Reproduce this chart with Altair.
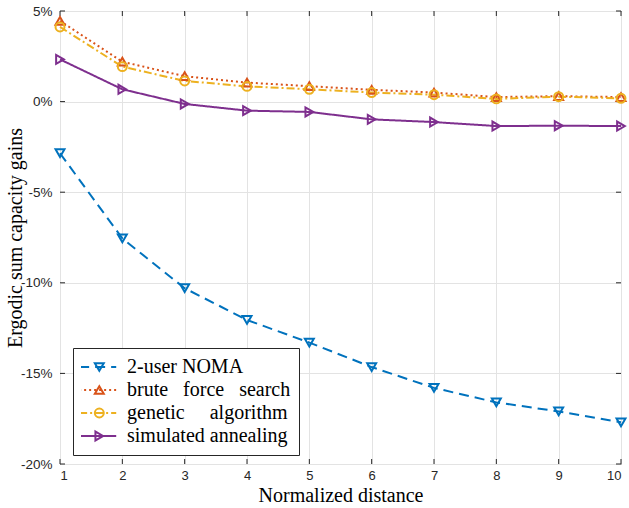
import altair as alt
import pandas as pd

# ---- data ----
distance = [1, 2, 3, 4, 5, 6, 7, 8, 9, 10]
series_names = [
    "2-user NOMA",
    "brute\u00a0\u00a0\u00a0force\u00a0\u00a0\u00a0search",
    "genetic\u00a0\u00a0\u00a0\u00a0\u00a0algorithm",
    "simulated annealing",
]
noma = [-2.85, -7.55, -10.3, -12.05, -13.3, -14.65, -15.8, -16.6, -17.1, -17.7]
brute = [4.45, 2.2, 1.4, 1.05, 0.85, 0.65, 0.5, 0.25, 0.3, 0.25]
genetic = [4.12, 1.93, 1.14, 0.84, 0.68, 0.5, 0.38, 0.15, 0.27, 0.18]
annealing = [2.33, 0.68, -0.13, -0.5, -0.57, -0.98, -1.13, -1.35, -1.33, -1.35]
colors = ["#0072BD", "#D95319", "#EDB120", "#7E2F8E"]
dashes = [[10, 6], [2, 3], [8, 3, 2, 3], [1, 0]]
shapes = ["triangle-down", "triangle-up", "circle", "triangle-right"]
x_ticks = [1, 2, 3, 4, 5, 6, 7, 8, 9, 10]
y_ticks = [-20, -15, -10, -5, 0, 5]

rows = []
for name, vals in zip(series_names, [noma, brute, genetic, annealing]):
    for d, v in zip(distance, vals):
        rows.append({"distance": d, "gain": v, "series": name, "series_m": name})
df = pd.DataFrame(rows)
xt = pd.DataFrame({"t": x_ticks})
yt = pd.DataFrame({"t": y_ticks})

W, H = 561, 453
SERIF = "Liberation Serif"
SANS = "Liberation Sans"

xscale = alt.Scale(domain=[1, 10], nice=False)
yscale = alt.Scale(domain=[-20, 5], nice=False)

LX, LY = 13, 337
line_legend = dict(
    title=None, orient="none", legendX=LX, legendY=LY,
    symbolType="M-3.2,0H6.8", symbolSize=55, symbolStrokeWidth=2,
    labelFont=SERIF, labelFontSize=20, labelColor="#000000",
    labelOffset=26, rowPadding=1, padding=8, clipHeight=22,
    strokeColor="#262626", fillColor="#ffffff", zindex=0, labelLimit=400,
)
marker_legend = dict(
    title=None, orient="none", legendX=LX, legendY=LY,
    symbolSize=80, symbolStrokeWidth=2, symbolOffset=8.3,
    symbolFillColor="transparent",
    labelFont=SERIF, labelFontSize=20, labelExpr="''",
    labelOffset=26, rowPadding=1, padding=8, clipHeight=22,
    zindex=1, labelLimit=400,
)

base = alt.Chart(df)

lines = base.mark_line(strokeWidth=2).encode(
    x=alt.X("distance:Q", scale=xscale,
            axis=alt.Axis(values=x_ticks, title="Normalized distance", format="d",
                          grid=True, gridColor="#e3e3e3", ticks=False, tickSize=0,
                          domain=False, labelFont=SANS, labelFontSize=13,
                          labelColor="#262626", labelPadding=5,
                          titleFont=SERIF, titleFontSize=20, titleFontWeight="normal",
                          titleColor="#000000", titleY=31, titleBaseline="middle")),
    y=alt.Y("gain:Q", scale=yscale,
            axis=alt.Axis(values=y_ticks, title="Ergodic sum capacity gains",
                          labelExpr="datum.value + '%'",
                          grid=True, gridColor="#e3e3e3", ticks=False, tickSize=0,
                          domain=False, labelFont=SANS, labelFontSize=13.5,
                          labelColor="#262626", labelPadding=8,
                          titleFont=SERIF, titleFontSize=20, titleFontWeight="normal",
                          titleColor="#000000", titleX=-45, titleBaseline="middle")),
    color=alt.Color("series:N", scale=alt.Scale(domain=series_names, range=colors),
                    legend=alt.Legend(**line_legend)),
    strokeDash=alt.StrokeDash("series:N",
                              scale=alt.Scale(domain=series_names, range=dashes),
                              legend=alt.Legend(**line_legend)),
)

points = base.mark_point(filled=False, strokeWidth=2, size=80, opacity=1).encode(
    x=alt.X("distance:Q", scale=xscale),
    y=alt.Y("gain:Q", scale=yscale),
    stroke=alt.Stroke("series_m:N", scale=alt.Scale(range=colors),
                      legend=alt.Legend(**marker_legend)),
    shape=alt.Shape("series_m:N", scale=alt.Scale(range=shapes),
                    legend=alt.Legend(**marker_legend)),
)

TICK = 5
tick_color = "#262626"
xb = alt.Chart(xt).mark_rule(color=tick_color, strokeWidth=1).encode(
    x=alt.X("t:Q", scale=xscale), y=alt.value(H), y2=alt.value(H - TICK))
xtop = alt.Chart(xt).mark_rule(color=tick_color, strokeWidth=1).encode(
    x=alt.X("t:Q", scale=xscale), y=alt.value(0), y2=alt.value(TICK))
yl = alt.Chart(yt).mark_rule(color=tick_color, strokeWidth=1).encode(
    y=alt.Y("t:Q", scale=yscale), x=alt.value(0), x2=alt.value(TICK))
yr = alt.Chart(yt).mark_rule(color=tick_color, strokeWidth=1).encode(
    y=alt.Y("t:Q", scale=yscale), x=alt.value(W), x2=alt.value(W - TICK))

chart = alt.layer(xb, xtop, yl, yr, lines, points).resolve_scale(
    stroke="independent", shape="independent"
).properties(
    width=W, height=H,
    autosize=alt.AutoSizeParams(type="none"),
    padding={"left": 60, "top": 11, "right": 8, "bottom": 44},
    background="#ffffff",
).configure_view(stroke="#262626", strokeWidth=1)

chart.save("out.html", embed_options={"renderer": "svg", "actions": False})
